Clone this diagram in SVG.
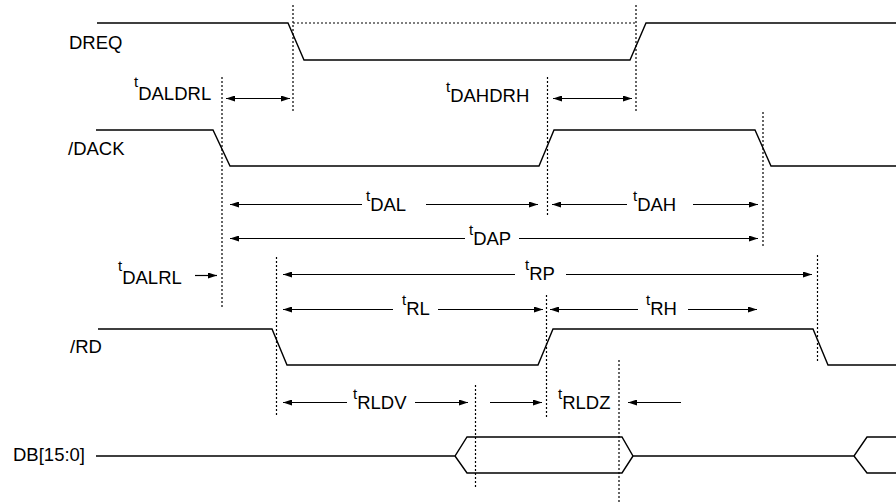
<svg xmlns="http://www.w3.org/2000/svg" width="896" height="503" viewBox="0 0 896 503">
<style>
.sig{fill:none;stroke:#000;stroke-width:1.4}
.dot{fill:none;stroke:#000;stroke-width:1.2;stroke-dasharray:2 2}
.arr{fill:none;stroke:#000;stroke-width:1.2}
.r{marker-end:url(#ah)}
.l{marker-start:url(#ah)}
.lbl{font-family:"Liberation Sans",Arial,sans-serif;font-size:18.5px;fill:#000}
.t{font-size:15px}
</style>
<defs>
<marker id="ah" markerUnits="userSpaceOnUse" markerWidth="10" markerHeight="6" refX="9" refY="3" orient="auto-start-reverse">
<path d="M0,0 L9,3 L0,6 z" fill="#000"/>
</marker>
</defs>
<rect width="896" height="503" fill="#fff"/>
<g id="signals">
<g id="DREQ">
<text class="lbl" x="69" y="49">DREQ</text>
<path class="sig" d="M97,23 H288 L304,60 H630 L646,23 H896"/>
</g>
<g id="DACK">
<text class="lbl" x="68" y="155">/DACK</text>
<path class="sig" d="M96,130 H213 L230,166 H539 L554,130 H755 L771,166 H896"/>
</g>
<g id="RD">
<text class="lbl" x="70" y="353">/RD</text>
<path class="sig" d="M98,329 H272 L287,365 H538 L553,329 H813 L828,365 H896"/>
</g>
<g id="DB">
<text class="lbl" x="13" y="461">DB[15:0]</text>
<path class="sig" d="M96,456 H455 L467,437 H622 L633,456 H854 L867,437 H896 M455,456 L467,473 H622 L633,456 M854,456 L867,473 H896"/>
</g>
</g>
<g id="guides">
<path class="dot" d="M293,23 H636"/>
<path class="dot" d="M293,5 V112"/>
<path class="dot" d="M636,5 V112"/>
<path class="dot" d="M222,77 V309"/>
<path class="dot" d="M547.5,77 V215"/>
<path class="dot" d="M763,112 V248"/>
<path class="dot" d="M276.5,257 V415"/>
<path class="dot" d="M817.5,255 V363"/>
<path class="dot" d="M546.5,295 V417"/>
<path class="dot" d="M619,360 V502"/>
<path class="dot" d="M475.5,385 V487"/>
</g>
<g id="connectors">
<path class="arr l r" d="M226,98.5 H290"/>
<path class="arr l r" d="M553,98.5 H632"/>
<path class="arr l" d="M230,204.5 H362"/>
<path class="arr r" d="M426,204.5 H538"/>
<path class="arr l" d="M552,204.5 H627"/>
<path class="arr r" d="M693,204.5 H758"/>
<path class="arr l" d="M230,238.5 H465"/>
<path class="arr r" d="M519,238.5 H758"/>
<path class="arr r" d="M195,275.5 H217"/>
<path class="arr l" d="M283,274.5 H515"/>
<path class="arr r" d="M566,274.5 H812"/>
<path class="arr l" d="M283,309.5 H393"/>
<path class="arr r" d="M438,309.5 H543"/>
<path class="arr l" d="M550,309.5 H638"/>
<path class="arr r" d="M688,309.5 H757"/>
<path class="arr l" d="M283,402.5 H347"/>
<path class="arr r" d="M415,402.5 H468"/>
<path class="arr r" d="M490,402.5 H542"/>
<path class="arr l" d="M628,402.5 H681"/>
</g>
<g id="labels">
<text class="lbl" x="134" y="100"><tspan class="t" dy="-13">t</tspan><tspan dy="13">DALDRL</tspan></text>
<text class="lbl" x="446" y="101.5"><tspan class="t" dy="-10">t</tspan><tspan dy="10">DAHDRH</tspan></text>
<text class="lbl" x="366" y="211"><tspan class="t" dy="-10">t</tspan><tspan dy="10">DAL</tspan></text>
<text class="lbl" x="633" y="211"><tspan class="t" dy="-10">t</tspan><tspan dy="10">DAH</tspan></text>
<text class="lbl" x="469" y="245"><tspan class="t" dy="-10">t</tspan><tspan dy="10">DAP</tspan></text>
<text class="lbl" x="118" y="283.5"><tspan class="t" dy="-13">t</tspan><tspan dy="13">DALRL</tspan></text>
<text class="lbl" x="525" y="280"><tspan class="t" dy="-10">t</tspan><tspan dy="10">RP</tspan></text>
<text class="lbl" x="402" y="314.5"><tspan class="t" dy="-10">t</tspan><tspan dy="10">RL</tspan></text>
<text class="lbl" x="646" y="314.5"><tspan class="t" dy="-10">t</tspan><tspan dy="10">RH</tspan></text>
<text class="lbl" x="353" y="408.5"><tspan class="t" dy="-10">t</tspan><tspan dy="10">RLDV</tspan></text>
<text class="lbl" x="558" y="408.5"><tspan class="t" dy="-10">t</tspan><tspan dy="10">RLDZ</tspan></text>
</g>
</svg>
